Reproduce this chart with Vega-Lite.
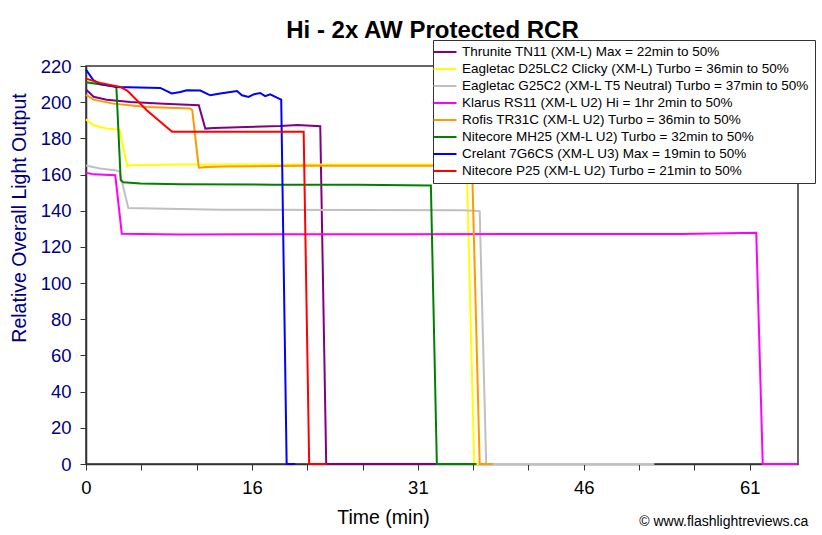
{
  "$schema": "https://vega.github.io/schema/vega-lite/v6.json",
  "width": 712,
  "height": 398,
  "autosize": {"type": "none"},
  "padding": {"left": 86, "top": 66, "right": 24, "bottom": 71},
  "background": "white",
  "title": {
    "text": "Hi - 2x AW Protected RCR",
    "font": "Liberation Sans",
    "fontSize": 24,
    "fontWeight": "bold",
    "color": "black",
    "anchor": "middle",
    "frame": "group",
    "dx": -9.5,
    "dy": 5,
    "offset": 2
  },
  "config": {
    "view": {"stroke": "#333333", "strokeWidth": 1.5},
    "font": "Liberation Sans"
  },
  "datasets": {
    "runtimes": [
      {"s": "Thrunite TN11 (XM-L) Max = 22min to 50%", "t": 0, "v": 207},
      {"s": "Thrunite TN11 (XM-L) Max = 22min to 50%", "t": 0.7, "v": 203},
      {"s": "Thrunite TN11 (XM-L) Max = 22min to 50%", "t": 1.9, "v": 201.4},
      {"s": "Thrunite TN11 (XM-L) Max = 22min to 50%", "t": 4.1, "v": 200.1},
      {"s": "Thrunite TN11 (XM-L) Max = 22min to 50%", "t": 7.2, "v": 199.2},
      {"s": "Thrunite TN11 (XM-L) Max = 22min to 50%", "t": 10.4, "v": 198.3},
      {"s": "Thrunite TN11 (XM-L) Max = 22min to 50%", "t": 11.0, "v": 185.4},
      {"s": "Thrunite TN11 (XM-L) Max = 22min to 50%", "t": 11.8, "v": 185.7},
      {"s": "Thrunite TN11 (XM-L) Max = 22min to 50%", "t": 14.8, "v": 186.3},
      {"s": "Thrunite TN11 (XM-L) Max = 22min to 50%", "t": 17.9, "v": 186.8},
      {"s": "Thrunite TN11 (XM-L) Max = 22min to 50%", "t": 19.5, "v": 187.4},
      {"s": "Thrunite TN11 (XM-L) Max = 22min to 50%", "t": 21.6, "v": 186.7},
      {"s": "Thrunite TN11 (XM-L) Max = 22min to 50%", "t": 22.15, "v": 0},
      {"s": "Thrunite TN11 (XM-L) Max = 22min to 50%", "t": 32.5, "v": 0},

      {"s": "Eagletac D25LC2 Clicky (XM-L) Turbo = 36min to 50%", "t": 0, "v": 190.5},
      {"s": "Eagletac D25LC2 Clicky (XM-L) Turbo = 36min to 50%", "t": 0.7, "v": 187.2},
      {"s": "Eagletac D25LC2 Clicky (XM-L) Turbo = 36min to 50%", "t": 1.9, "v": 185.4},
      {"s": "Eagletac D25LC2 Clicky (XM-L) Turbo = 36min to 50%", "t": 3.1, "v": 184.8},
      {"s": "Eagletac D25LC2 Clicky (XM-L) Turbo = 36min to 50%", "t": 3.8, "v": 164.5},
      {"s": "Eagletac D25LC2 Clicky (XM-L) Turbo = 36min to 50%", "t": 4.0, "v": 165.1},
      {"s": "Eagletac D25LC2 Clicky (XM-L) Turbo = 36min to 50%", "t": 8.7, "v": 165.5},
      {"s": "Eagletac D25LC2 Clicky (XM-L) Turbo = 36min to 50%", "t": 20, "v": 165.6},
      {"s": "Eagletac D25LC2 Clicky (XM-L) Turbo = 36min to 50%", "t": 35.1, "v": 165.5},
      {"s": "Eagletac D25LC2 Clicky (XM-L) Turbo = 36min to 50%", "t": 35.8, "v": 0},
      {"s": "Eagletac D25LC2 Clicky (XM-L) Turbo = 36min to 50%", "t": 37.5, "v": 0},

      {"s": "Eagletac G25C2 (XM-L T5 Neutral) Turbo = 37min to 50%", "t": 0, "v": 165},
      {"s": "Eagletac G25C2 (XM-L T5 Neutral) Turbo = 37min to 50%", "t": 1.3, "v": 163.3},
      {"s": "Eagletac G25C2 (XM-L T5 Neutral) Turbo = 37min to 50%", "t": 2.8, "v": 162.3},
      {"s": "Eagletac G25C2 (XM-L T5 Neutral) Turbo = 37min to 50%", "t": 3.1, "v": 161.5},
      {"s": "Eagletac G25C2 (XM-L T5 Neutral) Turbo = 37min to 50%", "t": 3.9, "v": 141.5},
      {"s": "Eagletac G25C2 (XM-L T5 Neutral) Turbo = 37min to 50%", "t": 7.4, "v": 141.1},
      {"s": "Eagletac G25C2 (XM-L T5 Neutral) Turbo = 37min to 50%", "t": 12.4, "v": 140.6},
      {"s": "Eagletac G25C2 (XM-L T5 Neutral) Turbo = 37min to 50%", "t": 34.8, "v": 140.3},
      {"s": "Eagletac G25C2 (XM-L T5 Neutral) Turbo = 37min to 50%", "t": 36.3, "v": 139.8},
      {"s": "Eagletac G25C2 (XM-L T5 Neutral) Turbo = 37min to 50%", "t": 36.9, "v": 0},
      {"s": "Eagletac G25C2 (XM-L T5 Neutral) Turbo = 37min to 50%", "t": 52.4, "v": 0},

      {"s": "Klarus RS11 (XM-L U2) Hi = 1hr 2min to 50%", "t": 0, "v": 161},
      {"s": "Klarus RS11 (XM-L U2) Hi = 1hr 2min to 50%", "t": 0.7, "v": 160.1},
      {"s": "Klarus RS11 (XM-L U2) Hi = 1hr 2min to 50%", "t": 2.7, "v": 159.6},
      {"s": "Klarus RS11 (XM-L U2) Hi = 1hr 2min to 50%", "t": 3.3, "v": 127.3},
      {"s": "Klarus RS11 (XM-L U2) Hi = 1hr 2min to 50%", "t": 8.7, "v": 126.9},
      {"s": "Klarus RS11 (XM-L U2) Hi = 1hr 2min to 50%", "t": 30, "v": 127},
      {"s": "Klarus RS11 (XM-L U2) Hi = 1hr 2min to 50%", "t": 55, "v": 127.2},
      {"s": "Klarus RS11 (XM-L U2) Hi = 1hr 2min to 50%", "t": 61.8, "v": 127.8},
      {"s": "Klarus RS11 (XM-L U2) Hi = 1hr 2min to 50%", "t": 62.4, "v": 0},
      {"s": "Klarus RS11 (XM-L U2) Hi = 1hr 2min to 50%", "t": 65.6, "v": 0},

      {"s": "Rofis TR31C (XM-L U2) Turbo = 36min to 50%", "t": 0, "v": 204},
      {"s": "Rofis TR31C (XM-L U2) Turbo = 36min to 50%", "t": 0.7, "v": 201.4},
      {"s": "Rofis TR31C (XM-L U2) Turbo = 36min to 50%", "t": 2.5, "v": 199.2},
      {"s": "Rofis TR31C (XM-L U2) Turbo = 36min to 50%", "t": 5.6, "v": 197.3},
      {"s": "Rofis TR31C (XM-L U2) Turbo = 36min to 50%", "t": 9.6, "v": 196.5},
      {"s": "Rofis TR31C (XM-L U2) Turbo = 36min to 50%", "t": 9.8, "v": 195.5},
      {"s": "Rofis TR31C (XM-L U2) Turbo = 36min to 50%", "t": 10.4, "v": 163.8},
      {"s": "Rofis TR31C (XM-L U2) Turbo = 36min to 50%", "t": 11.2, "v": 164.2},
      {"s": "Rofis TR31C (XM-L U2) Turbo = 36min to 50%", "t": 12.7, "v": 164.5},
      {"s": "Rofis TR31C (XM-L U2) Turbo = 36min to 50%", "t": 20, "v": 164.8},
      {"s": "Rofis TR31C (XM-L U2) Turbo = 36min to 50%", "t": 35.6, "v": 164.8},
      {"s": "Rofis TR31C (XM-L U2) Turbo = 36min to 50%", "t": 36.3, "v": 0},
      {"s": "Rofis TR31C (XM-L U2) Turbo = 36min to 50%", "t": 37.5, "v": 0},

      {"s": "Nitecore MH25 (XM-L U2) Turbo = 32min to 50%", "t": 0, "v": 211},
      {"s": "Nitecore MH25 (XM-L U2) Turbo = 32min to 50%", "t": 2.5, "v": 208.8},
      {"s": "Nitecore MH25 (XM-L U2) Turbo = 32min to 50%", "t": 2.8, "v": 208.4},
      {"s": "Nitecore MH25 (XM-L U2) Turbo = 32min to 50%", "t": 3.2, "v": 156.8},
      {"s": "Nitecore MH25 (XM-L U2) Turbo = 32min to 50%", "t": 3.45, "v": 155.7},
      {"s": "Nitecore MH25 (XM-L U2) Turbo = 32min to 50%", "t": 5, "v": 155},
      {"s": "Nitecore MH25 (XM-L U2) Turbo = 32min to 50%", "t": 8.7, "v": 154.6},
      {"s": "Nitecore MH25 (XM-L U2) Turbo = 32min to 50%", "t": 17.3, "v": 154.4},
      {"s": "Nitecore MH25 (XM-L U2) Turbo = 32min to 50%", "t": 25, "v": 154.3},
      {"s": "Nitecore MH25 (XM-L U2) Turbo = 32min to 50%", "t": 31.8, "v": 154},
      {"s": "Nitecore MH25 (XM-L U2) Turbo = 32min to 50%", "t": 32.35, "v": 0},
      {"s": "Nitecore MH25 (XM-L U2) Turbo = 32min to 50%", "t": 36, "v": 0},

      {"s": "Crelant 7G6CS (XM-L U3) Max = 19min to 50%", "t": 0, "v": 218},
      {"s": "Crelant 7G6CS (XM-L U3) Max = 19min to 50%", "t": 0.7, "v": 212},
      {"s": "Crelant 7G6CS (XM-L U3) Max = 19min to 50%", "t": 1.3, "v": 210},
      {"s": "Crelant 7G6CS (XM-L U3) Max = 19min to 50%", "t": 2.86, "v": 208.4},
      {"s": "Crelant 7G6CS (XM-L U3) Max = 19min to 50%", "t": 6.85, "v": 207.9},
      {"s": "Crelant 7G6CS (XM-L U3) Max = 19min to 50%", "t": 7.9, "v": 204.8},
      {"s": "Crelant 7G6CS (XM-L U3) Max = 19min to 50%", "t": 8.7, "v": 205.6},
      {"s": "Crelant 7G6CS (XM-L U3) Max = 19min to 50%", "t": 9.3, "v": 206.6},
      {"s": "Crelant 7G6CS (XM-L U3) Max = 19min to 50%", "t": 10.54, "v": 206.4},
      {"s": "Crelant 7G6CS (XM-L U3) Max = 19min to 50%", "t": 11.46, "v": 203.8},
      {"s": "Crelant 7G6CS (XM-L U3) Max = 19min to 50%", "t": 12.38, "v": 204.8},
      {"s": "Crelant 7G6CS (XM-L U3) Max = 19min to 50%", "t": 13.92, "v": 206.2},
      {"s": "Crelant 7G6CS (XM-L U3) Max = 19min to 50%", "t": 14.38, "v": 203.8},
      {"s": "Crelant 7G6CS (XM-L U3) Max = 19min to 50%", "t": 14.99, "v": 202.9},
      {"s": "Crelant 7G6CS (XM-L U3) Max = 19min to 50%", "t": 15.45, "v": 204.3},
      {"s": "Crelant 7G6CS (XM-L U3) Max = 19min to 50%", "t": 16.06, "v": 205.1},
      {"s": "Crelant 7G6CS (XM-L U3) Max = 19min to 50%", "t": 16.52, "v": 203.3},
      {"s": "Crelant 7G6CS (XM-L U3) Max = 19min to 50%", "t": 16.99, "v": 204.3},
      {"s": "Crelant 7G6CS (XM-L U3) Max = 19min to 50%", "t": 17.6, "v": 202.5},
      {"s": "Crelant 7G6CS (XM-L U3) Max = 19min to 50%", "t": 18.0, "v": 201.4},
      {"s": "Crelant 7G6CS (XM-L U3) Max = 19min to 50%", "t": 18.5, "v": 0},
      {"s": "Crelant 7G6CS (XM-L U3) Max = 19min to 50%", "t": 19.3, "v": 0},

      {"s": "Nitecore P25 (XM-L U2) Turbo = 21min to 50%", "t": 0, "v": 213},
      {"s": "Nitecore P25 (XM-L U2) Turbo = 21min to 50%", "t": 1.3, "v": 210.6},
      {"s": "Nitecore P25 (XM-L U2) Turbo = 21min to 50%", "t": 3.16, "v": 208.4},
      {"s": "Nitecore P25 (XM-L U2) Turbo = 21min to 50%", "t": 3.8, "v": 206.4},
      {"s": "Nitecore P25 (XM-L U2) Turbo = 21min to 50%", "t": 5.6, "v": 195.5},
      {"s": "Nitecore P25 (XM-L U2) Turbo = 21min to 50%", "t": 7.77, "v": 184.5},
      {"s": "Nitecore P25 (XM-L U2) Turbo = 21min to 50%", "t": 7.95, "v": 183.7},
      {"s": "Nitecore P25 (XM-L U2) Turbo = 21min to 50%", "t": 15, "v": 183.6},
      {"s": "Nitecore P25 (XM-L U2) Turbo = 21min to 50%", "t": 20.07, "v": 183.6},
      {"s": "Nitecore P25 (XM-L U2) Turbo = 21min to 50%", "t": 20.58, "v": 0},
      {"s": "Nitecore P25 (XM-L U2) Turbo = 21min to 50%", "t": 22.2, "v": 0}
    ],
    "credit": [{"label": "© www.flashlightreviews.ca"}]
  },
  "layer": [
    {
      "data": {"name": "runtimes"},
      "mark": {"type": "line", "strokeWidth": 2, "interpolate": "linear"},
      "encoding": {
        "x": {
          "field": "t",
          "type": "quantitative",
          "scale": {"domain": [0, 65.65], "nice": false, "zero": false},
          "axis": {
            "values": [0, 5.1, 10.2, 15.3, 20.4, 25.5, 30.6, 35.7, 40.8, 45.9, 51, 56.1, 61.2],
            "tickCount": 60,
            "labelExpr": "datum.value == 0 ? '0' : datum.value == 15.3 ? '16' : datum.value == 30.6 ? '31' : datum.value == 45.9 ? '46' : datum.value == 61.2 ? '61' : ''",
            "grid": false,
            "domainColor": "#333333",
            "domainWidth": 1.5,
            "tickColor": "#333333",
            "tickSize": 6,
            "labelFont": "Liberation Sans",
            "labelFontSize": 18.5,
            "labelColor": "black",
            "labelPadding": 8,
            "labelFlush": false,
            "labelOverlap": false,
            "title": "Time (min)",
            "titleFont": "Liberation Sans",
            "titleFontSize": 19.5,
            "titleFontWeight": "normal",
            "titleColor": "black",
            "titleX": 297,
            "titleY": 53,
            "titleAlign": "center",
            "titleBaseline": "middle"
          }
        },
        "y": {
          "field": "v",
          "type": "quantitative",
          "scale": {"domain": [0, 220], "nice": false, "zero": true},
          "axis": {
            "values": [0, 20, 40, 60, 80, 100, 120, 140, 160, 180, 200, 220],
            "tickCount": 60,
            "grid": false,
            "domainColor": "#333333",
            "domainWidth": 1.5,
            "tickColor": "#333333",
            "tickSize": 6,
            "labelFont": "Liberation Sans",
            "labelFontSize": 18.5,
            "labelColor": "#000080",
            "labelPadding": 9,
            "labelOverlap": false,
            "labelFlush": false,
            "title": "Relative Overall Light Output",
            "titleFont": "Liberation Sans",
            "titleFontSize": 19.5,
            "titleFontWeight": "normal",
            "titleColor": "#000080",
            "titleX": -67,
            "titleY": 151.5,
            "titleAngle": 270,
            "titleAlign": "center",
            "titleBaseline": "middle"
          }
        },
        "color": {
          "field": "s",
          "type": "nominal",
          "scale": {
            "domain": [
              "Thrunite TN11 (XM-L) Max = 22min to 50%",
              "Eagletac D25LC2 Clicky (XM-L) Turbo = 36min to 50%",
              "Eagletac G25C2 (XM-L T5 Neutral) Turbo = 37min to 50%",
              "Klarus RS11 (XM-L U2) Hi = 1hr 2min to 50%",
              "Rofis TR31C (XM-L U2) Turbo = 36min to 50%",
              "Nitecore MH25 (XM-L U2) Turbo = 32min to 50%",
              "Crelant 7G6CS (XM-L U3) Max = 19min to 50%",
              "Nitecore P25 (XM-L U2) Turbo = 21min to 50%"
            ],
            "range": ["#800080", "#FFFF00", "#C0C0C0", "#FF00FF", "#FF9900", "#008000", "#0000FF", "#FF0000"]
          },
          "legend": {
            "orient": "none",
            "legendX": 347,
            "legendY": -26,
            "title": null,
            "fillColor": "white",
            "strokeColor": "#333333",
            "padding": 5,
            "labelFont": "Liberation Sans",
            "labelFontSize": 13.5,
            "labelColor": "black",
            "labelLimit": 500,
            "symbolType": "M-2,0H2",
            "symbolSize": 132,
            "symbolStrokeWidth": 2,
            "labelOffset": 10,
            "rowPadding": 3
          }
        }
      }
    },
    {
      "data": {"name": "credit"},
      "mark": {"type": "text", "align": "right", "baseline": "middle", "font": "Liberation Sans", "fontSize": 14, "color": "black"},
      "encoding": {
        "text": {"field": "label"},
        "x": {"datum": 66.6, "type": "quantitative", "scale": {"domain": [0, 65.65], "nice": false, "zero": false}},
        "y": {"datum": -31.8, "type": "quantitative", "scale": {"domain": [0, 220], "nice": false, "zero": true}}
      }
    }
  ]
}
